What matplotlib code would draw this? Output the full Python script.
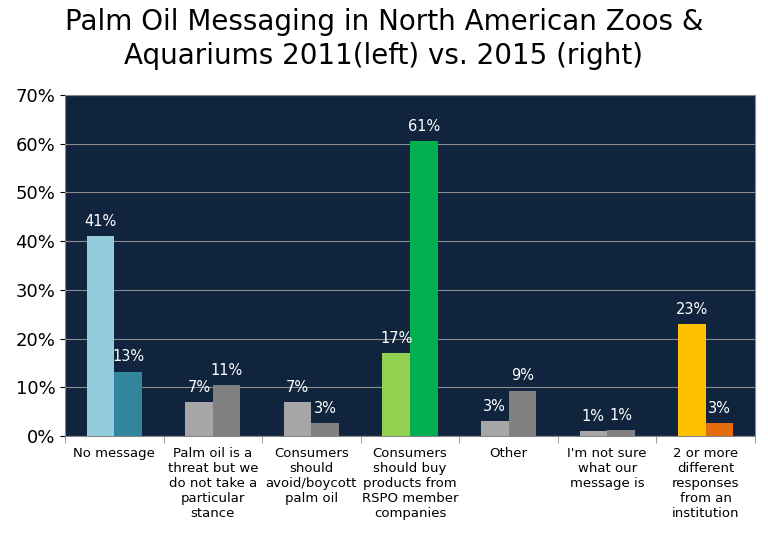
import matplotlib.pyplot as plt
import numpy as np

categories = ["No message", "Palm oil is a\nthreat but we\ndo not take a\nparticular\nstance",
              "Consumers\nshould\navoid/boycott\npalm oil", "Consumers\nshould buy\nproducts from\nRSPO member\ncompanies",
              "Other", "I'm not sure\nwhat our\nmessage is", "2 or more\ndifferent\nresponses\nfrom an\ninstitution"]
v2011 = [41, 7, 7, 17, 3, 1, 23]
v2015 = [13.2, 10.5, 2.7, 60.5, 9.3, 1.2, 2.7]
labels2011 = ["41%", "7%", "7%", "17%", "3%", "1%", "23%"]
labels2015 = ["13%", "11%", "3%", "61%", "9%", "1%", "3%"]
c2011 = ["#93CDDD", "#A6A6A6", "#A6A6A6", "#92D050", "#A6A6A6", "#A6A6A6", "#FFC000"]
c2015 = ["#31859C", "#808080", "#808080", "#00B050", "#808080", "#808080", "#E46C0A"]

fig = plt.figure(figsize=(7.68, 5.49), dpi=100)
ax = fig.add_axes([65/768, 1-436/549, 690/768, 341/549])
ax.set_facecolor("#10243E")
x = np.arange(len(categories))
w = 0.28
b1 = ax.bar(x - w/2, v2011, w, color=c2011, zorder=3)
b2 = ax.bar(x + w/2, v2015, w, color=c2015, zorder=3)
for b, l in zip(b1, labels2011):
    ax.text(b.get_x()+b.get_width()/2, b.get_height()+1.5, l, ha="center", va="bottom", color="white", fontsize=10.5, zorder=4)
for b, l in zip(b2, labels2015):
    ax.text(b.get_x()+b.get_width()/2, b.get_height()+1.5, l, ha="center", va="bottom", color="white", fontsize=10.5, zorder=4)
ax.set_xlim(-0.5, len(categories)-0.5)
ax.set_ylim(0, 70)
ax.set_yticks(range(0, 71, 10))
ax.set_yticklabels([f"{t}%" for t in range(0, 71, 10)], fontsize=13)
ax.yaxis.grid(True, color="#8C8C8C", linewidth=0.8, zorder=0)
ax.set_xticks(x)
ax.set_xticklabels(categories, fontsize=9.5, va="top")
ax.tick_params(axis="x", length=0, pad=8)
ax.set_xticks(np.arange(-0.5, len(categories), 1), minor=True)
ax.tick_params(axis="x", which="minor", length=5, color="#888888")
for s in ax.spines.values():
    s.set_color("#888888")
fig.suptitle("Palm Oil Messaging in North American Zoos &\nAquariums 2011(left) vs. 2015 (right)", fontsize=20, y=0.985, linespacing=1.25)
fig.savefig("out.png", dpi=100)
